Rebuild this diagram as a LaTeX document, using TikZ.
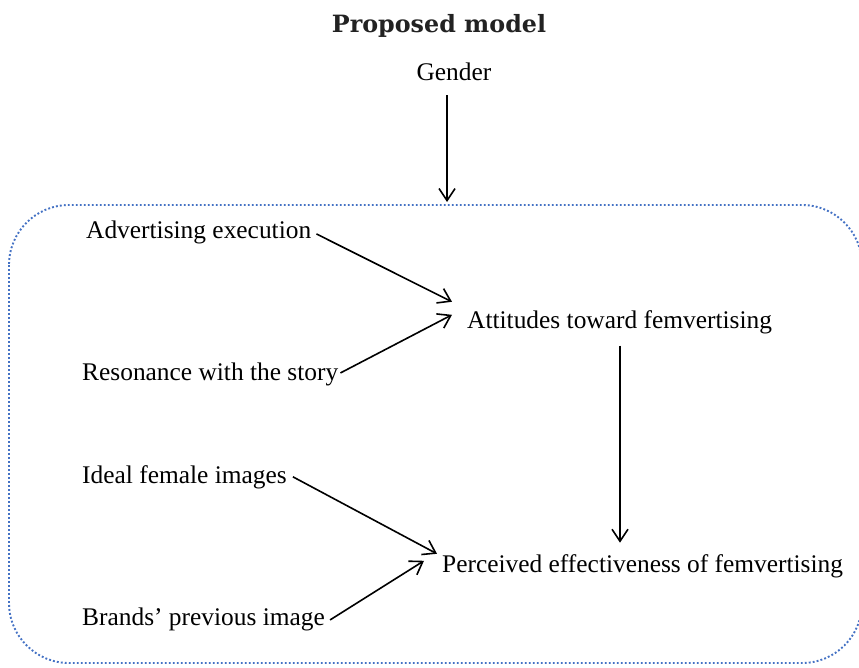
\documentclass[tikz,border=0pt]{standalone}
\usepackage{fontspec}
\setmainfont{Liberation Serif}
\newfontfamily\titlefont{DejaVu Serif}
\usetikzlibrary{arrows.meta}
\definecolor{boxblue}{RGB}{68,114,196}
\definecolor{titlegray}{RGB}{34,34,34}
\begin{document}
\begin{tikzpicture}[x=1pt,y=-1pt,
  lbl/.style={inner sep=0pt,anchor=base west,font=\fontsize{25.4}{29}\selectfont},
  arr/.style={line width=1.6pt,-{Straight Barb[length=12pt,width=16pt,line width=1.6pt]}},
  border/.style={draw=boxblue,line width=1.9pt,dash pattern=on 1.9pt off 2.1pt,rounded corners=60pt}]
\useasboundingbox (0,0) rectangle (859,667);
\node[inner sep=0pt,anchor=base,text=titlegray,font=\titlefont\bfseries\fontsize{23.8}{28}\selectfont] (title) at (439,32) {Proposed model};
\node[lbl,anchor=base] (gender) at (454,80) {Gender};
\node[lbl] (adv) at (86,238) {Advertising execution};
\node[lbl] (res) at (82,380) {Resonance with the story};
\node[lbl] (att) at (467,328) {Attitudes toward femvertising};
\node[lbl] (ideal) at (82,483) {Ideal female images};
\node[lbl] (brand) at (82,625) {Brands’ previous image};
\node[lbl] (perc) at (442,572) {Perceived effectiveness of femvertising};
\begin{scope}
\clip (0,0) rectangle (859,667);
\path[border] (9,205) rectangle (862,663);
\end{scope}
\coordinate (boxtop) at (447,202);
\draw[arr] ([shift={(-7,15)}]gender.south) -- (boxtop);
\draw[arr] ([shift={(5,2)}]adv.east) -- ([shift={(-15,-20)}]att.west);
\draw[arr] ([shift={(2,-1)}]res.east) -- ([shift={(-15,-7)}]att.west);
\draw[arr] ([shift={(6,0)}]ideal.east) -- ([shift={(-5,-12)}]perc.west);
\draw[arr] ([shift={(5,1)}]brand.east) -- ([shift={(-18,-5)}]perc.west);
\draw[arr] (att.south -| 620,0) ++(0,12) -- ++(0,197);
\end{tikzpicture}
\end{document}
